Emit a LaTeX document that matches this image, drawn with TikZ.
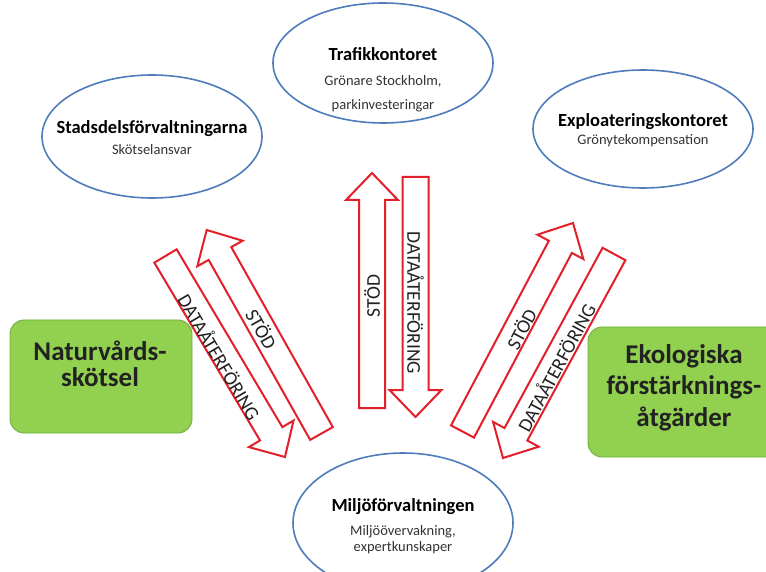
\documentclass[tikz,border=0pt]{standalone}
\usepackage{fontspec}
\setmainfont{Carlito}
\usetikzlibrary{calc,shapes.geometric}
\definecolor{ellblue}{HTML}{4F7CBA}
\definecolor{arrred}{HTML}{E3202A}
\definecolor{boxgreen}{HTML}{92D050}
\definecolor{boxedge}{HTML}{6FAE3F}
\definecolor{subgray}{HTML}{333333}
\definecolor{txtdark}{HTML}{222222}
\newcommand\blockarrow[2]{%
  \coordinate (hb) at ($(#2)!27pt!(#1)$);
  \draw[barrow] ($(#1)!13pt!90:(#2)$) -- ($(hb)!13pt!90:(#2)$) -- ($(hb)!26pt!90:(#2)$) -- (#2)
    -- ($(hb)!26pt!-90:(#2)$) -- ($(hb)!13pt!-90:(#2)$) -- ($(#1)!13pt!-90:(#2)$) -- cycle;
}
\begin{document}
\begin{tikzpicture}[x=1pt,y=1pt,
  ell/.style={ellipse, draw=ellblue, line width=1.6pt, fill=white, inner sep=0pt, minimum width=220pt},
  gbox/.style={draw=boxedge, line width=0.9pt, fill=boxgreen, rounded corners=14pt, inner sep=0pt},
  barrow/.style={draw=arrred, line width=2pt, fill=white, line join=miter},
  ttl/.style={anchor=base, inner sep=0pt, font=\fontsize{18.5}{22}\selectfont\bfseries, text=black},
  sub/.style={anchor=base, inner sep=0pt, font=\fontsize{14.5}{17}\selectfont, text=subgray},
  gtxt/.style={anchor=base, inner sep=0pt, font=\fontsize{27}{30}\selectfont\bfseries, text=txtdark},
  atxt/.style={inner sep=0pt, font=\fontsize{19.5}{22}\selectfont, text=txtdark}]
\useasboundingbox (0,0) rectangle (766,571);
\clip (0,0) rectangle (766,571);
\fill[white] (0,0) rectangle (766,571);

% ellipses
\node[ell, minimum height=120pt] (traf) at (383,508) {};
\node[ell, minimum height=123pt] (stad) at (152,434.5) {};
\node[ell, minimum height=118pt] (expl) at (643,442) {};
\node[ell, minimum height=140pt] (milj) at (403,48) {};

\node[ttl] (traf-t) at (383,510) {Trafikkontoret};
\node[sub] (traf-s1) at (383,485) {Grönare Stockholm,};
\node[sub] (traf-s2) at (383,461) {parkinvesteringar};

\node[ttl] (stad-t) at (152,437) {Stadsdelsförvaltningarna};
\node[sub] (stad-s1) at (152,416) {Skötselansvar};

\node[ttl] (expl-t) at (643,444.3) {Exploateringskontoret};
\node[sub] (expl-s1) at (643,426) {Grönytekompensation};

\node[ttl] (milj-t) at (403,59.3) {Miljöförvaltningen};
\node[sub] (milj-s1) at (403,36) {Miljöövervakning,};
\node[sub] (milj-s2) at (403,19.3) {expertkunskaper};

% green boxes
\node[gbox, minimum width=182pt, minimum height=113pt] (natur) at (101,194.5) {};
\node[gtxt] (natur-1) at (100,211) {Naturvårds-};
\node[gtxt] (natur-2) at (100,184.3) {skötsel};

\node[gbox, minimum width=198pt, minimum height=130pt] (ekol) at (687,179) {};
\node[gtxt] (ekol-1) at (684,207.7) {Ekologiska};
\node[gtxt] (ekol-2) at (684,176) {förstärknings-};
\node[gtxt] (ekol-3) at (684,144.3) {åtgärder};

% block arrows
\coordinate (vs-a) at (372,163);   \coordinate (vs-b) at (372,398);
\coordinate (vd-a) at (415.5,394); \coordinate (vd-b) at (415.5,154);
\coordinate (ld-a) at (165.5,315); \coordinate (ld-b) at (285,114);
\coordinate (ls-a) at (321.5,137.5); \coordinate (ls-b) at (206.7,341);
\coordinate (rs-a) at (462.5,139.5); \coordinate (rs-b) at (573,348);
\coordinate (rd-a) at (614,317);   \coordinate (rd-b) at (503,113);

\blockarrow{vs-a}{vs-b}
\blockarrow{vd-a}{vd-b}
\blockarrow{ld-a}{ld-b}
\blockarrow{ls-a}{ls-b}
\blockarrow{rs-a}{rs-b}
\blockarrow{rd-a}{rd-b}

\node[atxt, rotate=90] (vs-t) at (372,275) {STÖD};
\node[atxt, rotate=-90] (vd-t) at (415.5,268) {DATAÅTERFÖRING};
\node[atxt, rotate=-59.5] (ld-t) at (220,214) {DATAÅTERFÖRING};
\node[atxt, rotate=-60.5] (ls-t) at (262,242) {STÖD};
\node[atxt, rotate=62] (rs-t) at (521,242) {STÖD};
\node[atxt, rotate=61.5] (rd-t) at (555.5,204) {DATAÅTERFÖRING};
\end{tikzpicture}
\end{document}
